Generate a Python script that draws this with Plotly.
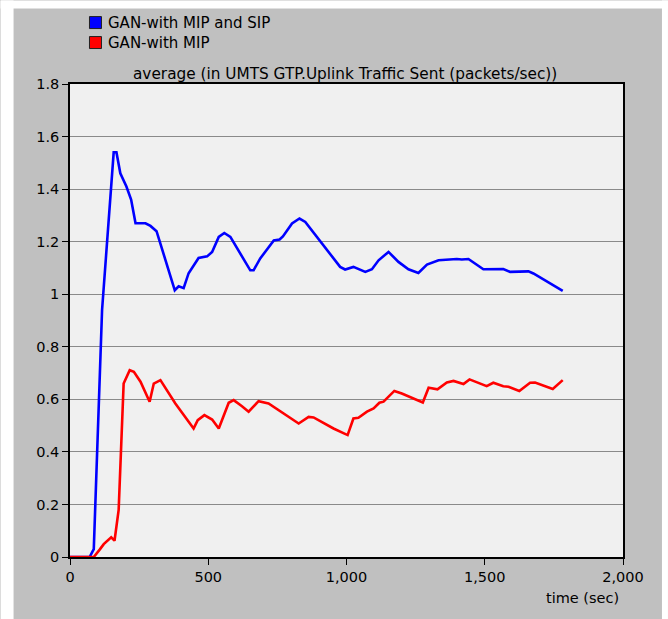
import plotly.graph_objects as go

# ---- data ----
blue_t = [0, 71, 86, 116, 158, 168, 182, 204, 221, 237, 273, 291, 313, 327, 379, 393, 411, 429,
          465, 496, 514, 538, 558, 580, 652, 664, 688, 737, 758, 770, 803, 830, 851, 977, 995,
          1025, 1068, 1092, 1116, 1152, 1188, 1224, 1260, 1291, 1333, 1399, 1417, 1441, 1495,
          1567, 1592, 1658, 1676, 1782]
blue_v = [0, 0, 0.03, 0.94, 1.54, 1.54, 1.46, 1.41, 1.36, 1.27, 1.27, 1.26, 1.24, 1.19, 1.015,
          1.03, 1.023, 1.08, 1.138, 1.144, 1.161, 1.218, 1.233, 1.218, 1.091, 1.091, 1.136,
          1.205, 1.208, 1.22, 1.269, 1.288, 1.275, 1.104, 1.094, 1.104, 1.085, 1.095, 1.129,
          1.161, 1.123, 1.095, 1.081, 1.113, 1.129, 1.134, 1.132, 1.134, 1.095, 1.096, 1.085,
          1.087, 1.079, 1.013]

red_t = [0, 86, 108, 122, 149, 161, 176, 194, 216, 231, 255, 288, 303, 327, 381, 447, 462, 486,
         514, 538, 574, 592, 622, 646, 682, 718, 827, 863, 881, 953, 1004, 1025, 1043, 1074,
         1098, 1119, 1134, 1173, 1200, 1255, 1276, 1297, 1329, 1363, 1387, 1423, 1445, 1507,
         1531, 1567, 1586, 1625, 1664, 1682, 1746, 1782]
red_v = [0, 0, 0.029, 0.049, 0.075, 0.062, 0.179, 0.66, 0.711, 0.705, 0.667, 0.591, 0.66, 0.673,
         0.584, 0.489, 0.521, 0.54, 0.523, 0.489, 0.587, 0.597, 0.574, 0.553, 0.593, 0.584,
         0.508, 0.533, 0.531, 0.489, 0.464, 0.527, 0.53, 0.553, 0.565, 0.587, 0.591, 0.632,
         0.622, 0.597, 0.588, 0.644, 0.638, 0.664, 0.67, 0.658, 0.676, 0.65, 0.663, 0.65,
         0.648, 0.632, 0.663, 0.664, 0.639, 0.673]

series_names = ["GAN-with MIP and SIP", "GAN-with MIP"]
series_colors = ["#0000ff", "#ff0000"]
chart_title = "average (in UMTS GTP.Uplink Traffic Sent (packets/sec))"
x_title = "time (sec)"
x_ticks = [0, 500, 1000, 1500, 2000]
y_ticks = [0, 0.2, 0.4, 0.6, 0.8, 1, 1.2, 1.4, 1.6, 1.8]

W, H = 668, 619
L, R, T, B = 69.5, 45, 83.5, 62
pw, ph = W - L - R, H - T - B

def px(x):
    return (x - L) / pw

def py(y):
    return (H - B - y) / ph

FONT = "DejaVu Sans, Verdana, sans-serif"

fig = go.Figure()
for t, v, name, col in [(blue_t, blue_v, series_names[0], series_colors[0]),
                        (red_t, red_v, series_names[1], series_colors[1])]:
    fig.add_trace(go.Scatter(x=t, y=v, mode="lines", name=name, showlegend=False,
                             line=dict(color=col, width=2.6)))

shapes = [
    # white margins outside the grey panel
    dict(type="rect", xref="paper", yref="paper", x0=px(0), x1=px(13), y0=py(H), y1=py(0),
         fillcolor="white", line=dict(width=0), layer="above"),
    dict(type="rect", xref="paper", yref="paper", x0=px(0), x1=px(W), y0=py(8), y1=py(0),
         fillcolor="white", line=dict(width=0), layer="above"),
    dict(type="rect", xref="paper", yref="paper", x0=px(662), x1=px(W), y0=py(H), y1=py(0),
         fillcolor="white", line=dict(width=0), layer="above"),
]
annotations = []
for i, (name, col) in enumerate(zip(series_names, series_colors)):
    cy = 22 + 20 * i
    shapes.append(dict(type="rect", xref="paper", yref="paper",
                       x0=px(89), x1=px(101), y0=py(cy + 6), y1=py(cy - 6),
                       fillcolor=col, line=dict(color="#202020", width=1), layer="above"))
    annotations.append(dict(x=px(106), y=py(cy), xref="paper", yref="paper", text=name,
                            showarrow=False, xanchor="left", yanchor="middle",
                            font=dict(family=FONT, size=15, color="black")))

annotations.append(dict(x=px(345), y=py(73), xref="paper", yref="paper", text=chart_title,
                        showarrow=False, xanchor="center", yanchor="middle",
                        font=dict(family=FONT, size=15.3, color="black")))
annotations.append(dict(x=px(621), y=py(598), xref="paper", yref="paper", text=x_title,
                        showarrow=False, xanchor="right", yanchor="middle",
                        font=dict(family=FONT, size=14.5, color="black")))

fig.update_layout(
    width=W, height=H, autosize=False,
    margin=dict(l=L, r=R, t=T, b=B, pad=0),
    paper_bgcolor="#c0c0c0", plot_bgcolor="#f0f0f0",
    font=dict(family=FONT, size=14.5, color="black"),
    shapes=shapes, annotations=annotations, showlegend=False,
    separators=".,",
)
fig.update_xaxes(range=[0, 2000], tickvals=x_ticks, tickformat=",d",
                 showgrid=False, zeroline=False, showline=True, linecolor="black",
                 linewidth=1.5, mirror=True, ticks="outside", ticklen=6, tickcolor="black",
                 tickfont=dict(family=FONT, size=14.5))
fig.update_yaxes(range=[0, 1.8], tickvals=y_ticks, showgrid=True, gridcolor="#8a8a8a",
                 gridwidth=1, zeroline=False, showline=True, linecolor="black",
                 linewidth=1.5, mirror=True, ticks="outside", ticklen=6, tickcolor="black",
                 tickfont=dict(family=FONT, size=14.5))

fig.write_html("out.html")
